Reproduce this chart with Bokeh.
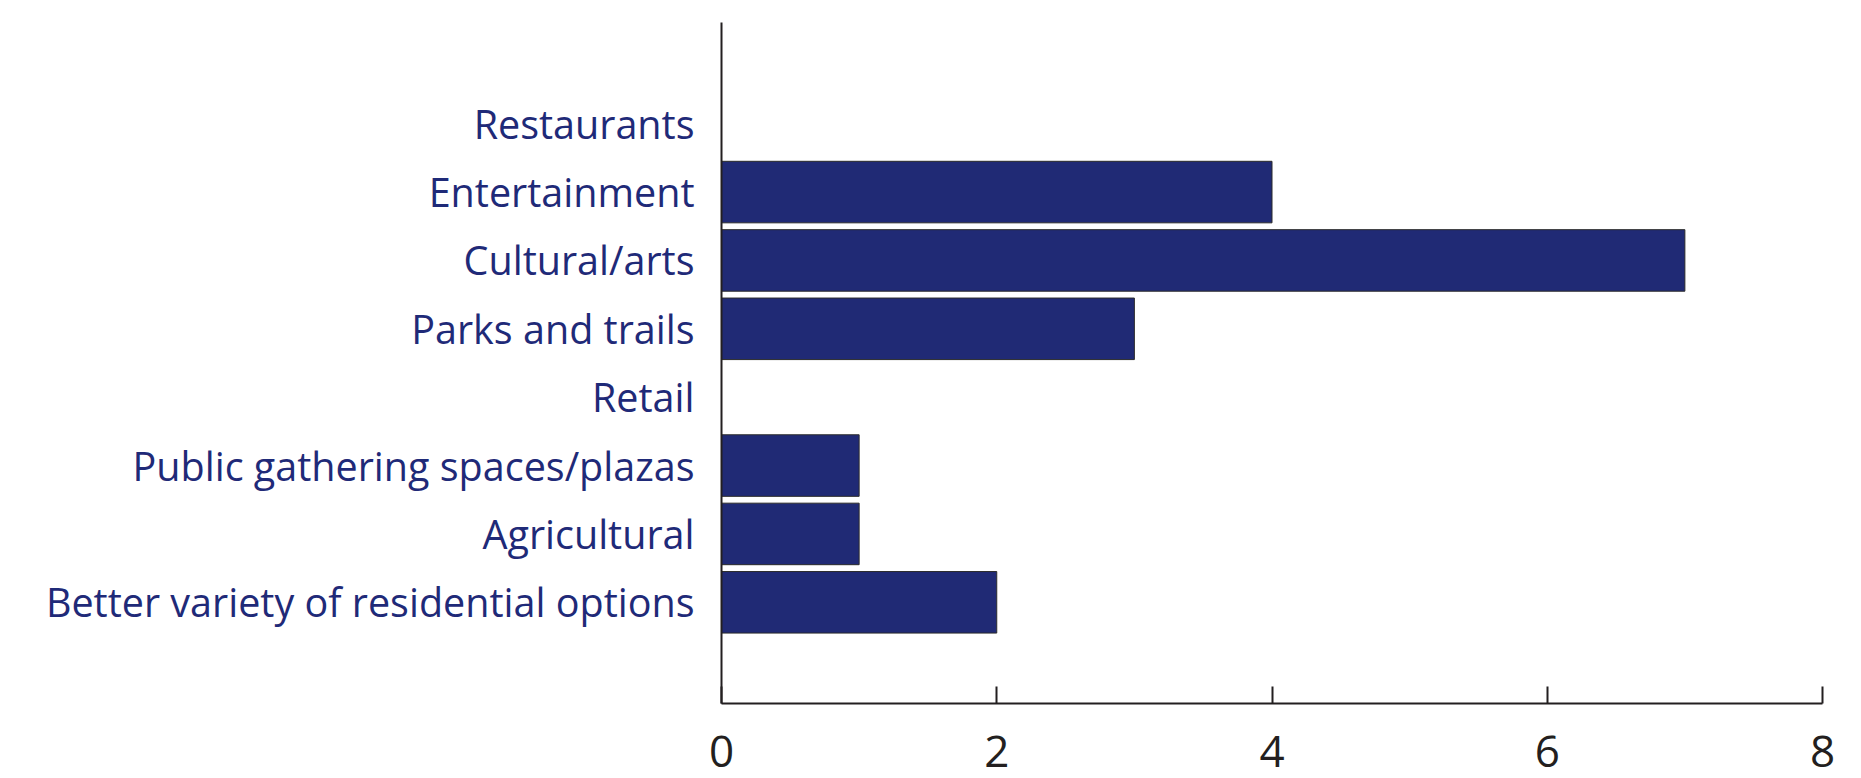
from bokeh.plotting import figure
from bokeh.models import FactorRange, ColumnDataSource, Range1d, FixedTicker
from bokeh.embed import file_html
from bokeh.resources import INLINE

categories = ["Restaurants", "Entertainment", "Cultural/arts", "Parks and trails",
              "Retail", "Public gathering spaces/plazas", "Agricultural",
              "Better variety of residential options"]
values = [0, 4, 7, 3, 0, 1, 1, 2]
x_ticks = [0, 2, 4, 6, 8]

factors = list(reversed(categories))
yr = FactorRange(*factors, range_padding=1.96 / 8, range_padding_units="percent")

p = figure(width=1845, height=778, y_range=yr, x_range=Range1d(0, 8),
           output_backend="svg", toolbar_location=None,
           min_border_left=721, min_border_right=23, min_border_top=22, min_border_bottom=75)

src = ColumnDataSource(dict(
    cat=[c for c, v in zip(categories, values) if v > 0],
    val=[v for v in values if v > 0]))
p.hbar(y="cat", left=0, right="val", height=0.9, source=src,
       fill_color="#202A75", line_color="#2b2b2b", line_width=1)

p.grid.visible = False
p.outline_line_color = None
p.background_fill_color = "white"
p.border_fill_color = "white"

xa = p.xaxis[0]
xa.ticker = FixedTicker(ticks=x_ticks)
xa.minor_tick_line_color = None
xa.major_tick_in = 17
xa.major_tick_out = 0
xa.axis_line_color = "#231F20"
xa.axis_line_width = 2
xa.major_tick_line_color = "#231F20"
xa.major_tick_line_width = 2
xa.major_label_text_font = "Open Sans"
xa.major_label_text_font_size = "44px"
xa.major_label_text_color = "#231F20"
xa.major_label_text_line_height = 0.8
xa.major_label_standoff = 32

ya = p.yaxis[0]
ya.major_tick_line_color = None
ya.minor_tick_line_color = None
ya.axis_line_color = "#231F20"
ya.axis_line_width = 2
ya.major_label_text_font = "Open Sans"
ya.major_label_text_font_size = "39.5px"
ya.major_label_text_color = "#1F2A78"
ya.major_label_standoff = 21

open("out.html", "w").write(file_html(p, INLINE))
